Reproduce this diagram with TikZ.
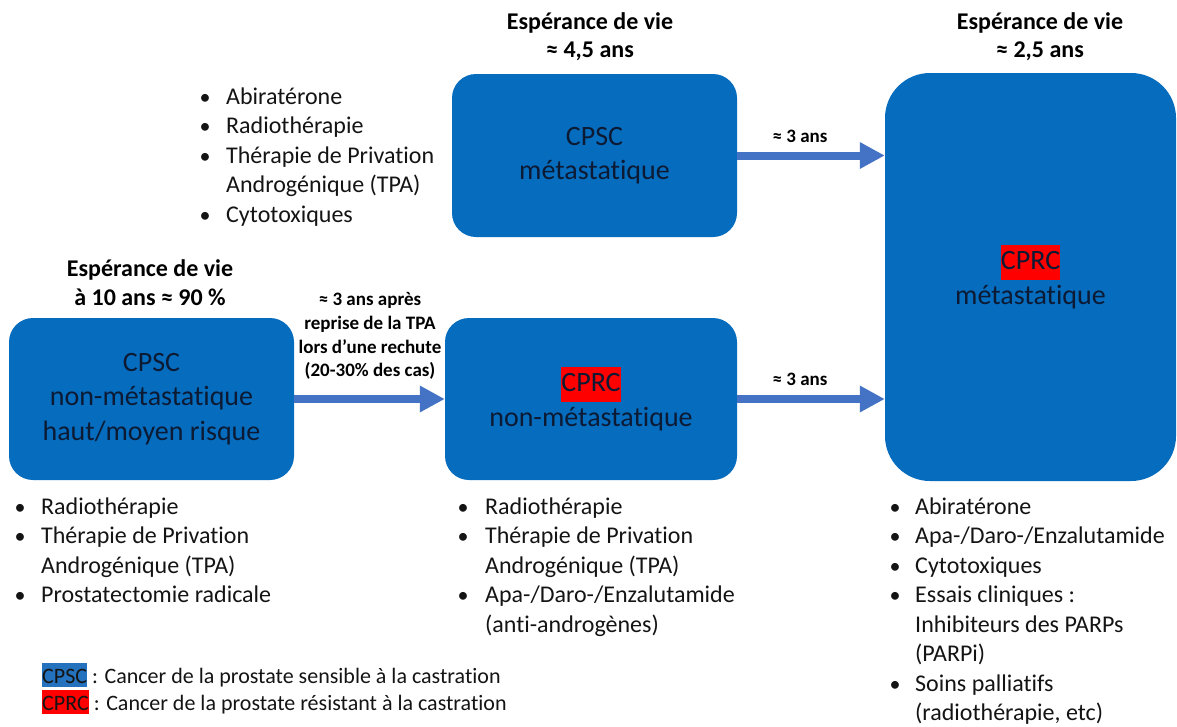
\documentclass[tikz,border=0pt]{standalone}
\usepackage{fontspec}
\setmainfont[Ligatures=NoCommon]{Carlito}
\usetikzlibrary{arrows.meta}
\definecolor{boxblue}{RGB}{6,108,189}
\definecolor{arrblue}{RGB}{68,114,196}
\definecolor{boxtext}{RGB}{12,26,52}
\definecolor{hlred}{RGB}{255,0,0}
\definecolor{legblue}{RGB}{36,114,190}
\definecolor{bodytext}{RGB}{20,20,20}
\newcommand{\hlbox}[2]{{\setlength{\fboxsep}{0pt}\colorbox{#1}{\rule[-0.36em]{0pt}{1.22em}#2}}}
\newcommand{\hllegend}[2]{{\setlength{\fboxsep}{0pt}\colorbox{#1}{\rule[-0.2em]{0pt}{1.12em}#2}}}
\begin{document}
\begin{tikzpicture}[x=1pt,y=-1pt,
  box/.style={fill=boxblue, text=boxtext, align=center,
    font=\fontsize{28}{34.5}\selectfont, inner sep=0pt, rounded corners=24pt},
  arr/.style={draw=arrblue, line width=8pt, -{Triangle[length=25pt,width=25pt]}},
  head/.style={anchor=base, inner sep=0pt, text=black, font=\bfseries\fontsize{24}{28.5}\selectfont},
  lab/.style={anchor=base, inner sep=0pt, text=black, font=\bfseries\fontsize{19}{23.5}\selectfont},
  itm/.style={anchor=base west, inner sep=0pt, text=bodytext, font=\fontsize{24}{29.5}\selectfont},
  bul/.style={anchor=base, inner sep=0pt, text=bodytext, font=\fontsize{22}{29.5}\selectfont},
  leg/.style={anchor=base west, inner sep=0pt, text=bodytext, font=\fontsize{22}{27}\selectfont}]
\fill[white] (0,0) rectangle (1177,726);
\useasboundingbox (0,0) rectangle (1177,726);

% boxes
\node[box, minimum width=285pt, minimum height=162pt] (A) at (151.5,399)
  {CPSC\\non-métastatique\\haut/moyen risque};
\node[box, minimum width=292pt, minimum height=162pt] (B) at (591,399)
  {\hlbox{hlred}{CPRC}\\non-métastatique};
\node[box, minimum width=285pt, minimum height=163pt] (C) at (594.5,155.5)
  {CPSC\\métastatique};
\node[box, minimum width=291pt, minimum height=408pt, rounded corners=45pt] (D) at (1030.5,277)
  {\hlbox{hlred}{CPRC}\\métastatique};

% arrows
\draw[arr] (A.east) -- (A.east -| B.west);
\draw[arr] (C.east) -- (C.east -| D.west);
\draw[arr] (B.east) -- (B.east -| D.west);

% headings
\node[head] (hc1) at (590,29) {Espérance de vie};
\node[head] (hc2) at (590,57) {≈ 4,5 ans};
\node[head] (hd1) at (1040,29) {Espérance de vie};
\node[head] (hd2) at (1040,57) {≈ 2,5 ans};
\node[head] (ha1) at (150,276) {Espérance de vie};
\node[head] (ha2) at (150,305) {à 10 ans ≈ 90 \%};

% arrow labels
\node[lab] (lab1) at (370,305) {≈ 3 ans après};
\node[lab] (lab2) at (370,329) {reprise de la TPA};
\node[lab] (lab3) at (370,353) {lors d’une rechute};
\node[lab] (lab4) at (370,376) {(20-30\% des cas)};
\node[lab] (lab5) at (800,142) {≈ 3 ans};
\node[lab] (lab6) at (800,385) {≈ 3 ans};

% list top-left
\node[bul] (tb1) at (205,104) {•};
\node[itm] (tt1) at (226,104) {Abiratérone};
\node[bul] (tb2) at (205,133.5) {•};
\node[itm] (tt2) at (226,133.5) {Radiothérapie};
\node[bul] (tb3) at (205,163) {•};
\node[itm] (tt3) at (226,163) {Thérapie de Privation};
\node[itm] (tt4) at (226,192.5) {Androgénique (TPA)};
\node[bul] (tb5) at (205,222) {•};
\node[itm] (tt5) at (226,222) {Cytotoxiques};

% list under A
\node[bul] (ab1) at (20,514) {•};
\node[itm] (at1) at (41,514) {Radiothérapie};
\node[bul] (ab2) at (20,543.5) {•};
\node[itm] (at2) at (41,543.5) {Thérapie de Privation};
\node[itm] (at3) at (41,573) {Androgénique (TPA)};
\node[bul] (ab4) at (20,602.5) {•};
\node[itm] (at4) at (41,602.5) {Prostatectomie radicale};

% list under B
\node[bul] (bb1) at (463,514) {•};
\node[itm] (bt1) at (485,514) {Radiothérapie};
\node[bul] (bb2) at (463,543.5) {•};
\node[itm] (bt2) at (485,543.5) {Thérapie de Privation};
\node[itm] (bt3) at (485,573) {Androgénique (TPA)};
\node[bul] (bb4) at (463,602.5) {•};
\node[itm] (bt4) at (485,602.5) {Apa-/Daro-/Enzalutamide};
\node[itm] (bt5) at (485,632) {(anti-androgènes)};

% list under D
\node[bul] (db1) at (895,514) {•};
\node[itm] (dt1) at (915,514) {Abiratérone};
\node[bul] (db2) at (895,543.5) {•};
\node[itm] (dt2) at (915,543.5) {Apa-/Daro-/Enzalutamide};
\node[bul] (db3) at (895,573) {•};
\node[itm] (dt3) at (915,573) {Cytotoxiques};
\node[bul] (db4) at (895,602.5) {•};
\node[itm] (dt4) at (915,602.5) {Essais cliniques :};
\node[itm] (dt5) at (915,632) {Inhibiteurs des PARPs};
\node[itm] (dt6) at (915,661.5) {(PARPi)};
\node[bul] (db7) at (895,691) {•};
\node[itm] (dt7) at (915,691) {Soins palliatifs};
\node[itm] (dt8) at (915,720.5) {(radiothérapie, etc)};

% legend
\node[leg] (lg1) at (42,683) {\hllegend{legblue}{CPSC} : Cancer de la prostate sensible à la castration};
\node[leg] (lg2) at (42,710) {\hllegend{hlred}{CPRC} : Cancer de la prostate résistant à la castration};
\end{tikzpicture}
\end{document}
